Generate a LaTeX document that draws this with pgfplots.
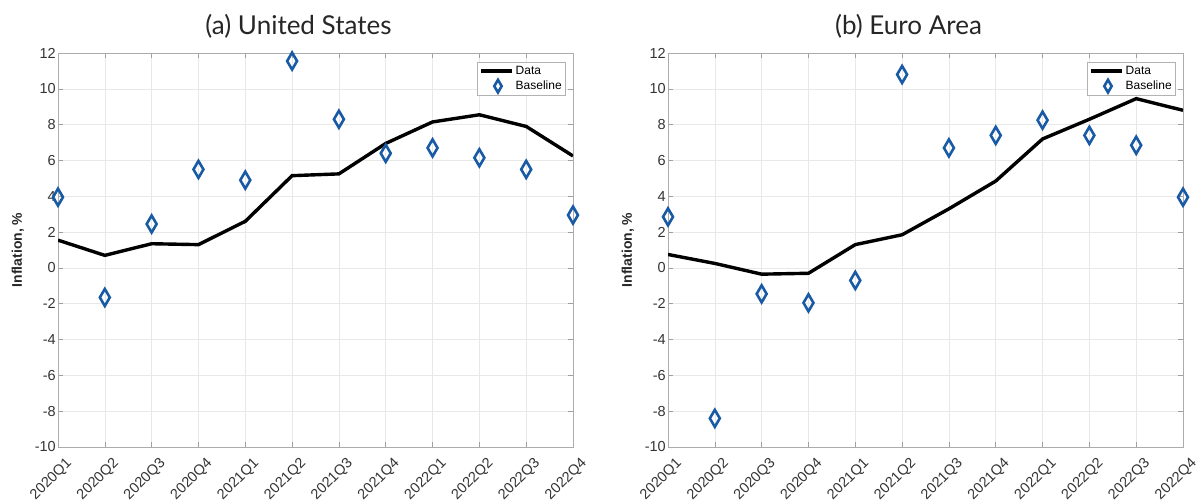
\documentclass[border=0pt]{standalone}
\usepackage{pgfplots}
\pgfplotsset{compat=1.18}
\usepackage{fontspec}
\setmainfont{Liberation Sans}
\newfontfamily\titlefont{Lato}
\definecolor{mblue}{RGB}{25,90,165}
\pgfplotsset{
  myax/.style={
    scale only axis, width=515pt, height=394pt,
    xmin=0, xmax=11, ymin=-10, ymax=12,
    xtick={0,...,11},
    xticklabels={2020Q1,2020Q2,2020Q3,2020Q4,2021Q1,2021Q2,2021Q3,2021Q4,2022Q1,2022Q2,2022Q3,2022Q4},
    ytick={-10,-8,...,12},
    grid=major, major grid style={gray!18, line width=0.6pt},
    axis line style={gray!65, line width=0.8pt},
    tick style={gray!75, line width=0.6pt}, tick align=inside, major tick length=5pt,
    xtick pos=both, ytick pos=both,
    /pgf/number format/assume math mode=true,
    ticklabel style={font=\fontsize{14.5}{16}\selectfont, text=black!80},
    yticklabel style={inner sep=2pt},
    xticklabel style={xshift=7pt, yshift=-8pt, rotate=45, anchor=north east, inner sep=1pt},
    ylabel={\textbf{Inflation, \%}},
    ylabel style={font=\fontsize{14}{16}\selectfont, at={(axis description cs:-0.078,0.5)}, anchor=center, text=black!85},
    title style={font=\titlefont\fontsize{26}{30}\selectfont, at={(axis description cs:0.5,1)}, anchor=base, xshift=-17pt, yshift=12pt, text=black!85},
    legend style={at={(1,1)}, anchor=north east, xshift=-7pt, yshift=-9pt,
      font=\fontsize{12}{14}\selectfont, draw=gray!60, line width=0.6pt, inner sep=2pt, row sep=1pt,
      nodes={inner sep=2pt}},
    legend cell align=left,
  },
  dataline/.style={black, line width=3.4pt, mark=none,
    legend image code/.code={\draw[black, line width=3.4pt] (0pt,0pt) -- (31pt,0pt);}},
  baseline/.style={only marks, mark=diamond, mark size=8.5pt,
    mark options={draw=mblue, line width=2.6pt, fill=white, xscale=0.78},
    legend image code/.code={\path[draw=none,fill=none] (0pt,0pt) -- (31pt,0pt); \draw[##1, mark size=6.3pt] plot coordinates {(17pt,0pt)};}},
}
\begin{document}
\begin{tikzpicture}[x=1pt,y=1pt]
\path[use as bounding box] (0,0) rectangle (1198,503);
\begin{axis}[myax, at={(58pt,56pt)}, anchor=south west, title={(a) United States}]
\addplot[dataline] coordinates {(0,1.55)(1,0.7)(2,1.35)(3,1.3)(4,2.6)(5,5.15)(6,5.25)(7,6.95)(8,8.15)(9,8.55)(10,7.9)(11,6.25)};
\addlegendentry{Data}
\addplot[baseline] coordinates {(0,3.95)(1,-1.65)(2,2.45)(3,5.5)(4,4.9)(5,11.55)(6,8.3)(7,6.4)(8,6.7)(9,6.15)(10,5.5)(11,2.95)};
\addlegendentry{Baseline}
\end{axis}
\begin{axis}[myax, at={(668pt,56pt)}, anchor=south west, title={(b) Euro Area}]
\addplot[dataline] coordinates {(0,0.75)(1,0.25)(2,-0.35)(3,-0.3)(4,1.3)(5,1.85)(6,3.3)(7,4.85)(8,7.2)(9,8.3)(10,9.45)(11,8.8)};
\addlegendentry{Data}
\addplot[baseline] coordinates {(0,2.85)(1,-8.4)(2,-1.45)(3,-1.95)(4,-0.7)(5,10.8)(6,6.7)(7,7.4)(8,8.25)(9,7.4)(10,6.85)(11,3.95)};
\addlegendentry{Baseline}
\end{axis}
\end{tikzpicture}
\end{document}
